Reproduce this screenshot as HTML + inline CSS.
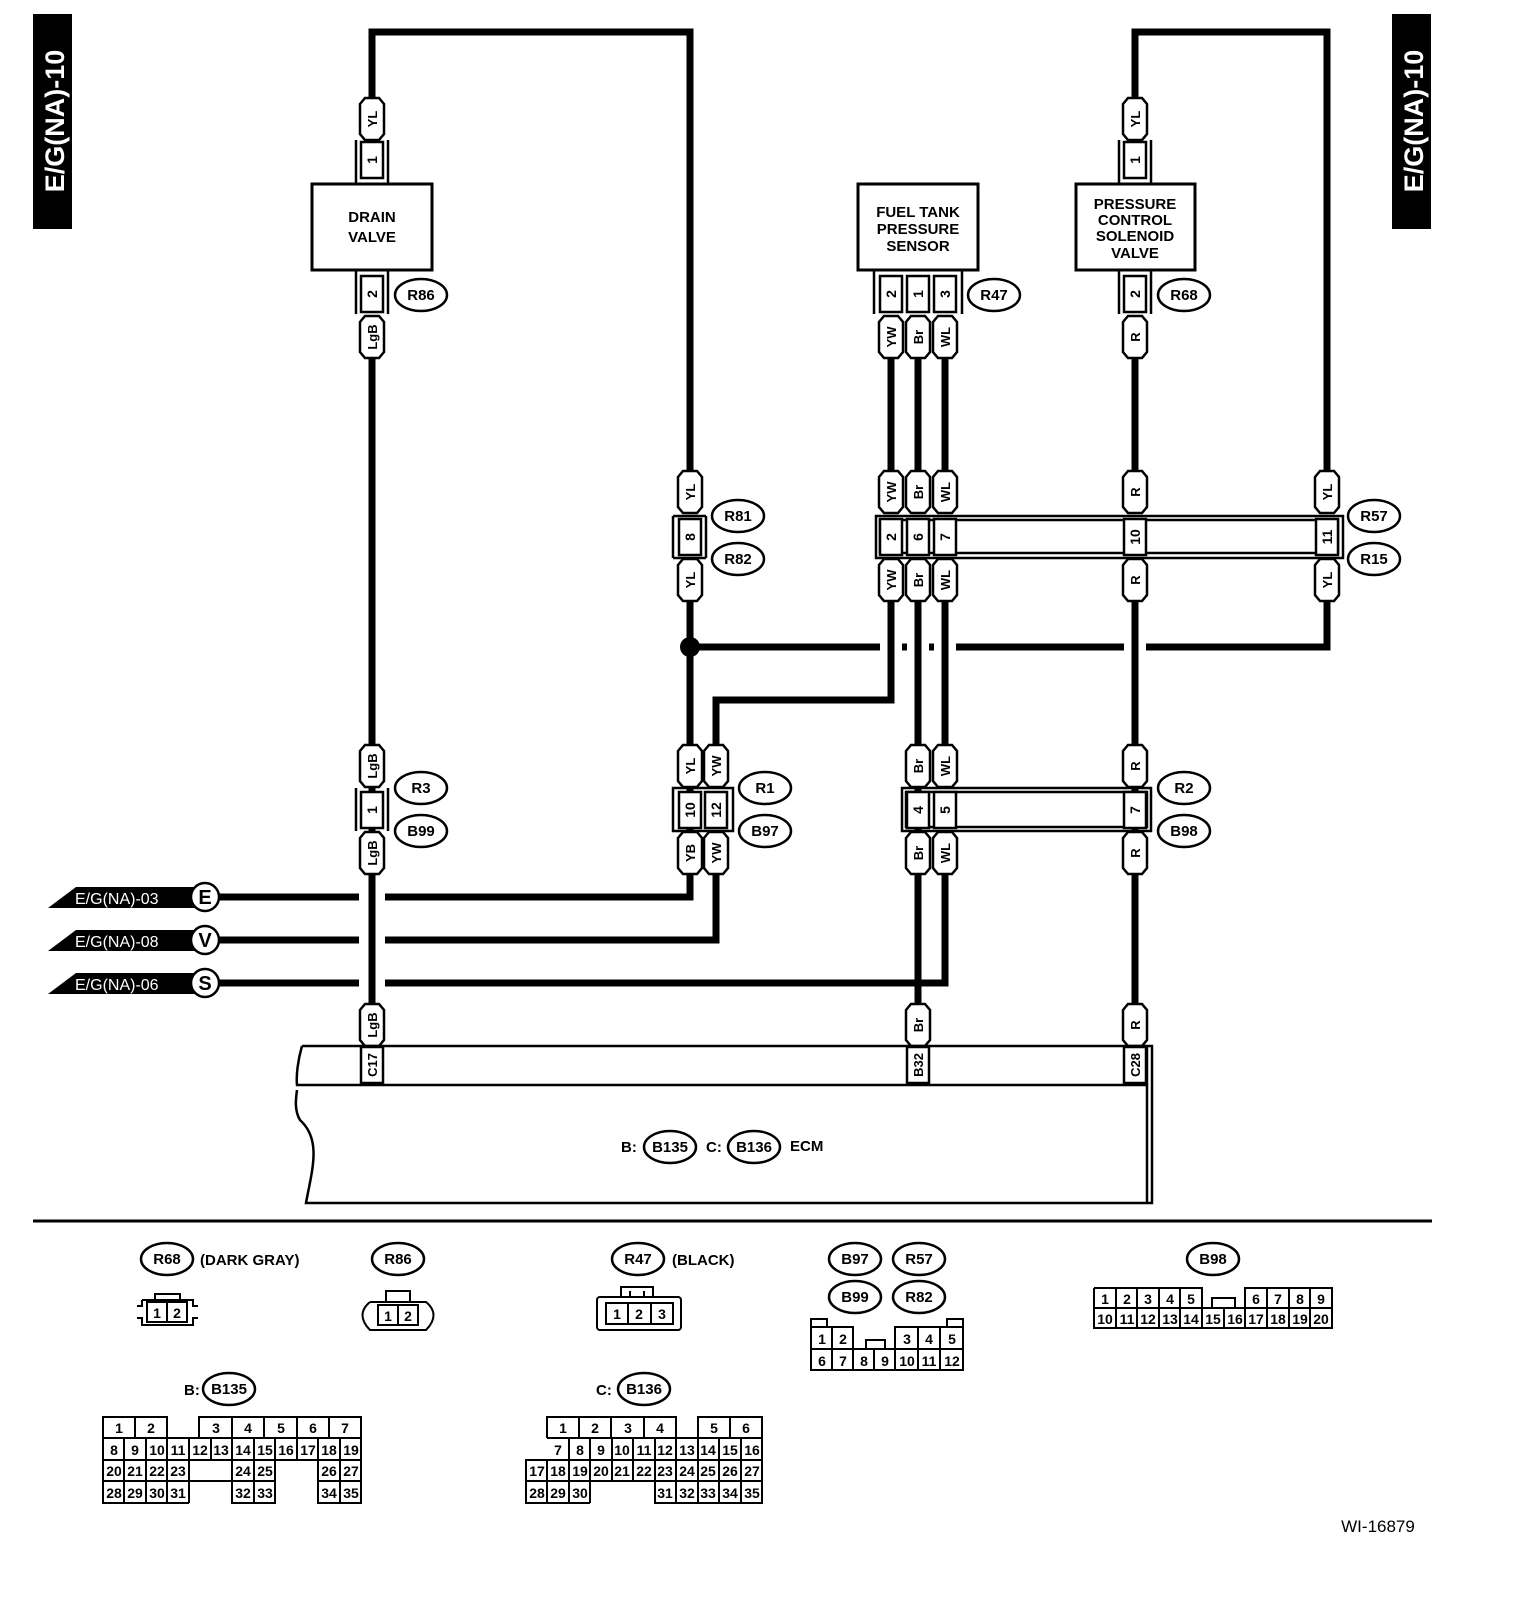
<!DOCTYPE html>
<html><head><meta charset="utf-8"><style>
html,body{margin:0;padding:0;background:#fff;overflow:hidden;width:1520px;height:1602px}
svg{display:block;position:absolute;left:0;top:0}
text{font-family:"Liberation Sans",sans-serif;font-weight:bold}
</style></head><body>
<svg width="1520" height="1602" viewBox="0 0 1520 1602" xmlns="http://www.w3.org/2000/svg">
<defs>
<path id="pill" d="M-12,-15 L-7,-21 H7 L12,-15 V15 L7,21 H-7 L-12,15 Z" fill="#fff" stroke="#000" stroke-width="2.5"/>
<rect id="pin" x="-11" y="-18" width="22" height="36" fill="#fff" stroke="#000" stroke-width="2.5"/>
</defs>
<rect width="1520" height="1602" fill="#fff"/>
<rect x="33" y="14" width="39" height="215" fill="#000"/>
<text transform="translate(64,121) rotate(-90)" fill="#fff" font-size="27" font-weight="normal" text-anchor="middle">E/G(NA)-10</text>
<rect x="1392" y="14" width="39" height="215" fill="#000"/>
<text transform="translate(1423,121) rotate(-90)" fill="#fff" font-size="27" font-weight="normal" text-anchor="middle">E/G(NA)-10</text>

<g stroke="#000" stroke-width="7" fill="none" stroke-linejoin="miter">
<path d="M372,98 V32 H690 V471"/>
<path d="M1135,98 V32 H1327 V471"/>
<path d="M690,647 H1327 V602"/>
<path d="M205,897 H690 V602"/>
<path d="M205,940 H716 V873"/>
<path d="M205,983 H945 V873"/>
</g>
<g fill="#fff">
<rect x="359" y="890" width="26" height="14"/>
<rect x="359" y="933" width="26" height="14"/>
<rect x="359" y="976" width="26" height="14"/>
<rect x="880" y="640" width="22" height="14"/>
<rect x="907" y="640" width="22" height="14"/>
<rect x="934" y="640" width="22" height="14"/>
<rect x="1124" y="640" width="22" height="14"/>
</g>
<g stroke="#000" stroke-width="7" fill="none">
<path d="M372,358 V1004"/>
<path d="M891,358 V471 M891,602 V700 H716 V745"/>
<path d="M918,358 V471 M918,602 V1004"/>
<path d="M945,358 V471 M945,602 V745"/>
<path d="M1135,358 V471 M1135,602 V1004"/>
<path d="M372,120 V160"/>
</g>
<circle cx="690" cy="647" r="10" fill="#000"/>

<g fill="#fff" stroke="#000" stroke-width="3">
<rect x="312" y="184" width="120" height="86"/>
<rect x="858" y="184" width="120" height="86"/>
<rect x="1076" y="184" width="119" height="86"/>
</g>
<g font-size="15" text-anchor="middle">
<text x="372" y="222">DRAIN</text><text x="372" y="242">VALVE</text>
<text x="918" y="217">FUEL TANK</text><text x="918" y="234">PRESSURE</text><text x="918" y="251">SENSOR</text>
<text x="1135" y="209">PRESSURE</text><text x="1135" y="225">CONTROL</text><text x="1135" y="241">SOLENOID</text><text x="1135" y="258">VALVE</text>
</g>

<g stroke="#000" stroke-width="2.5" fill="none">
<path d="M356,140 V184 M388,140 V184 M356,270 V314 M388,270 V314"/>
<path d="M1119,140 V184 M1151,140 V184 M1119,270 V314 M1151,270 V314"/>
<path d="M874,270 V314 M962,270 V314"/>
<path d="M673,516 H706 M673,516 V558 M706,516 V558 M673,558 H706"/>
<rect x="876" y="516" width="467" height="42"/>
<rect x="880" y="520" width="458" height="33"/>
<path d="M356,788 V831 M388,788 V831"/>
<rect x="673" y="788" width="60" height="43"/>
<rect x="902" y="788" width="249" height="43"/>
<rect x="906" y="792" width="241" height="35"/>
</g>

<g>
<use href="#pin" x="372" y="160"/><use href="#pin" x="372" y="294"/>
<use href="#pin" x="891" y="294"/><use href="#pin" x="918" y="294"/><use href="#pin" x="945" y="294"/>
<use href="#pin" x="1135" y="294"/><use href="#pin" x="1135" y="160"/>
<use href="#pin" x="690" y="537"/>
<use href="#pin" x="891" y="537"/><use href="#pin" x="918" y="537"/><use href="#pin" x="945" y="537"/>
<use href="#pin" x="1135" y="537"/><use href="#pin" x="1327" y="537"/>
<use href="#pin" x="372" y="810"/><use href="#pin" x="690" y="810"/><use href="#pin" x="716" y="810"/>
<use href="#pin" x="918" y="810"/><use href="#pin" x="945" y="810"/><use href="#pin" x="1135" y="810"/>
</g>
<g font-size="14" text-anchor="middle">
<text transform="translate(377,160) rotate(-90)">1</text>
<text transform="translate(377,294) rotate(-90)">2</text>
<text transform="translate(896,294) rotate(-90)">2</text>
<text transform="translate(923,294) rotate(-90)">1</text>
<text transform="translate(950,294) rotate(-90)">3</text>
<text transform="translate(1140,294) rotate(-90)">2</text>
<text transform="translate(1140,160) rotate(-90)">1</text>
<text transform="translate(695,537) rotate(-90)">8</text>
<text transform="translate(896,537) rotate(-90)">2</text>
<text transform="translate(923,537) rotate(-90)">6</text>
<text transform="translate(950,537) rotate(-90)">7</text>
<text transform="translate(1140,537) rotate(-90)">10</text>
<text transform="translate(1332,537) rotate(-90)">11</text>
<text transform="translate(377,810) rotate(-90)">1</text>
<text transform="translate(695,810) rotate(-90)">10</text>
<text transform="translate(721,810) rotate(-90)">12</text>
<text transform="translate(923,810) rotate(-90)">4</text>
<text transform="translate(950,810) rotate(-90)">5</text>
<text transform="translate(1140,810) rotate(-90)">7</text>
</g>

<g>
<use href="#pill" x="372" y="119"/><use href="#pill" x="372" y="337"/>
<use href="#pill" x="891" y="337"/><use href="#pill" x="918" y="337"/><use href="#pill" x="945" y="337"/>
<use href="#pill" x="1135" y="337"/><use href="#pill" x="1135" y="119"/>
<use href="#pill" x="690" y="492"/><use href="#pill" x="891" y="492"/><use href="#pill" x="918" y="492"/><use href="#pill" x="945" y="492"/><use href="#pill" x="1135" y="492"/><use href="#pill" x="1327" y="492"/>
<use href="#pill" x="690" y="580"/><use href="#pill" x="891" y="580"/><use href="#pill" x="918" y="580"/><use href="#pill" x="945" y="580"/><use href="#pill" x="1135" y="580"/><use href="#pill" x="1327" y="580"/>
<use href="#pill" x="372" y="766"/><use href="#pill" x="690" y="766"/><use href="#pill" x="716" y="766"/><use href="#pill" x="918" y="766"/><use href="#pill" x="945" y="766"/><use href="#pill" x="1135" y="766"/>
<use href="#pill" x="372" y="853"/><use href="#pill" x="690" y="853"/><use href="#pill" x="716" y="853"/><use href="#pill" x="918" y="853"/><use href="#pill" x="945" y="853"/><use href="#pill" x="1135" y="853"/>
<use href="#pill" x="372" y="1025"/><use href="#pill" x="918" y="1025"/><use href="#pill" x="1135" y="1025"/>
</g>
<g font-size="13" text-anchor="middle">
<text transform="translate(377,119) rotate(-90)">YL</text>
<text transform="translate(377,337) rotate(-90)">LgB</text>
<text transform="translate(896,337) rotate(-90)">YW</text>
<text transform="translate(923,337) rotate(-90)">Br</text>
<text transform="translate(950,337) rotate(-90)">WL</text>
<text transform="translate(1140,337) rotate(-90)">R</text>
<text transform="translate(1140,119) rotate(-90)">YL</text>
<text transform="translate(695,492) rotate(-90)">YL</text>
<text transform="translate(896,492) rotate(-90)">YW</text>
<text transform="translate(923,492) rotate(-90)">Br</text>
<text transform="translate(950,492) rotate(-90)">WL</text>
<text transform="translate(1140,492) rotate(-90)">R</text>
<text transform="translate(1332,492) rotate(-90)">YL</text>
<text transform="translate(695,580) rotate(-90)">YL</text>
<text transform="translate(896,580) rotate(-90)">YW</text>
<text transform="translate(923,580) rotate(-90)">Br</text>
<text transform="translate(950,580) rotate(-90)">WL</text>
<text transform="translate(1140,580) rotate(-90)">R</text>
<text transform="translate(1332,580) rotate(-90)">YL</text>
<text transform="translate(377,766) rotate(-90)">LgB</text>
<text transform="translate(695,766) rotate(-90)">YL</text>
<text transform="translate(721,766) rotate(-90)">YW</text>
<text transform="translate(923,766) rotate(-90)">Br</text>
<text transform="translate(950,766) rotate(-90)">WL</text>
<text transform="translate(1140,766) rotate(-90)">R</text>
<text transform="translate(377,853) rotate(-90)">LgB</text>
<text transform="translate(695,853) rotate(-90)">YB</text>
<text transform="translate(721,853) rotate(-90)">YW</text>
<text transform="translate(923,853) rotate(-90)">Br</text>
<text transform="translate(950,853) rotate(-90)">WL</text>
<text transform="translate(1140,853) rotate(-90)">R</text>
<text transform="translate(377,1025) rotate(-90)">LgB</text>
<text transform="translate(923,1025) rotate(-90)">Br</text>
<text transform="translate(1140,1025) rotate(-90)">R</text>
</g>

<g fill="#fff" stroke="#000" stroke-width="2.5">
<ellipse cx="421" cy="295" rx="26" ry="16"/>
<ellipse cx="994" cy="295" rx="26" ry="16"/>
<ellipse cx="1184" cy="295" rx="26" ry="16"/>
<ellipse cx="738" cy="516" rx="26" ry="16"/><ellipse cx="738" cy="559" rx="26" ry="16"/>
<ellipse cx="1374" cy="516" rx="26" ry="16"/><ellipse cx="1374" cy="559" rx="26" ry="16"/>
<ellipse cx="421" cy="788" rx="26" ry="16"/><ellipse cx="421" cy="831" rx="26" ry="16"/>
<ellipse cx="765" cy="788" rx="26" ry="16"/><ellipse cx="765" cy="831" rx="26" ry="16"/>
<ellipse cx="1184" cy="788" rx="26" ry="16"/><ellipse cx="1184" cy="831" rx="26" ry="16"/>
<ellipse cx="670" cy="1147" rx="26" ry="16"/><ellipse cx="754" cy="1147" rx="26" ry="16"/>
<ellipse cx="167" cy="1259" rx="26" ry="16"/><ellipse cx="398" cy="1259" rx="26" ry="16"/><ellipse cx="638" cy="1259" rx="26" ry="16"/>
<ellipse cx="855" cy="1259" rx="26" ry="16"/><ellipse cx="919" cy="1259" rx="26" ry="16"/>
<ellipse cx="855" cy="1297" rx="26" ry="16"/><ellipse cx="919" cy="1297" rx="26" ry="16"/>
<ellipse cx="1213" cy="1259" rx="26" ry="16"/>
<ellipse cx="229" cy="1389" rx="26" ry="16"/><ellipse cx="644" cy="1389" rx="26" ry="16"/>
</g>
<g font-size="15" text-anchor="middle">
<text x="421" y="300">R86</text><text x="994" y="300">R47</text><text x="1184" y="300">R68</text>
<text x="738" y="521">R81</text><text x="738" y="564">R82</text>
<text x="1374" y="521">R57</text><text x="1374" y="564">R15</text>
<text x="421" y="793">R3</text><text x="421" y="836">B99</text>
<text x="765" y="793">R1</text><text x="765" y="836">B97</text>
<text x="1184" y="793">R2</text><text x="1184" y="836">B98</text>
<text x="670" y="1152">B135</text><text x="754" y="1152">B136</text>
<text x="167" y="1264">R68</text><text x="398" y="1264">R86</text><text x="638" y="1264">R47</text>
<text x="855" y="1264">B97</text><text x="919" y="1264">R57</text><text x="855" y="1302">B99</text><text x="919" y="1302">R82</text>
<text x="1213" y="1264">B98</text>
<text x="229" y="1394">B135</text><text x="644" y="1394">B136</text>
</g>
<g font-size="15">
<text x="621" y="1152">B:</text><text x="706" y="1152">C:</text><text x="790" y="1151">ECM</text>
<text x="200" y="1265">(DARK GRAY)</text><text x="672" y="1265">(BLACK)</text>
<text x="184" y="1395">B:</text><text x="596" y="1395">C:</text>
</g>

<g>
<polygon points="48,908 76,887 196,887 196,908" fill="#000"/>
<polygon points="48,951 76,930 196,930 196,951" fill="#000"/>
<polygon points="48,994 76,973 196,973 196,994" fill="#000"/>
<g fill="#fff" font-size="16"><text x="75" y="904" style="font-weight:normal">E/G(NA)-03</text><text x="75" y="947" style="font-weight:normal">E/G(NA)-08</text><text x="75" y="990" style="font-weight:normal">E/G(NA)-06</text></g>
<g fill="#fff" stroke="#000" stroke-width="2.5"><circle cx="205" cy="897" r="14"/><circle cx="205" cy="940" r="14"/><circle cx="205" cy="983" r="14"/></g>
<g font-size="20" text-anchor="middle"><text x="205" y="904">E</text><text x="205" y="947">V</text><text x="205" y="990">S</text></g>
</g>

<g fill="none" stroke="#000" stroke-width="2.5">
<path d="M302,1046 H1152 V1203 H306 C312,1170 322,1140 300,1120 C294,1110 296,1098 297,1090"/>
<path d="M302,1046 C298,1060 296,1075 297,1085 H1147"/>
<path d="M1147,1046 V1203"/>
</g>
<g><use href="#pin" x="372" y="1065"/><use href="#pin" x="918" y="1065"/><use href="#pin" x="1135" y="1065"/></g>
<g font-size="13" text-anchor="middle">
<text transform="translate(377,1065) rotate(-90)">C17</text>
<text transform="translate(923,1065) rotate(-90)">B32</text>
<text transform="translate(1140,1065) rotate(-90)">C28</text>
</g>

<line x1="33" y1="1221" x2="1432" y2="1221" stroke="#000" stroke-width="3"/>

<g fill="none" stroke="#000" stroke-width="2">
<path d="M142,1300 H193 V1306 H198 M198,1318 H193 V1325 H142 V1318 H137 M137,1306 H142 V1300"/>
<path d="M155,1300 V1294 H180 V1300"/>
<rect x="147" y="1302" width="40" height="20"/><line x1="167" y1="1302" x2="167" y2="1322"/>
<path d="M370,1302 H426 C436,1310 436,1320 426,1330 H370 C360,1320 360,1310 370,1302"/>
<path d="M386,1302 V1291 H410 V1302"/>
<rect x="378" y="1305" width="40" height="20"/><line x1="398" y1="1305" x2="398" y2="1325"/>
<rect x="597" y="1297" width="84" height="33" rx="3"/>
<path d="M621,1297 V1287 H653 V1297 M630,1297 V1291 M644,1297 V1291"/>
<rect x="606" y="1303" width="67" height="21"/><line x1="628" y1="1303" x2="628" y2="1324"/><line x1="651" y1="1303" x2="651" y2="1324"/>
<path d="M811,1349 V1327 H853 V1349 M895,1349 V1327 H963 V1349 M811,1349 H963 V1370 H811 Z"/>
<path d="M832,1327 V1370 M853,1349 V1370 M874,1349 V1370 M895,1349 V1370 M918,1327 V1370 M940,1327 V1370 M866,1349 V1340 H885 V1349 M811,1327 V1319 H827 V1327 M963,1327 V1319 H947 V1327"/>
<path d="M1094,1288 H1202 V1308 M1094,1288 V1328 H1332 V1288 H1245 V1308 M1094,1308 H1332"/>
<path d="M1116,1288 V1328 M1137,1288 V1328 M1159,1288 V1328 M1180,1288 V1328 M1202,1308 V1328 M1224,1308 V1328 M1245,1288 V1328 M1267,1288 V1328 M1289,1288 V1328 M1310,1288 V1328 M1212,1308 V1298 H1235 V1308"/>
<path d="M103,1438 V1417 H167 V1438 M199,1438 V1417 H361 V1438 M103,1438 H361 V1460 H103 Z"/>
<path d="M135,1417 V1438 M232,1417 V1438 M264,1417 V1438 M297,1417 V1438 M329,1417 V1438"/>
<path d="M124,1438 V1503 M146,1438 V1503 M167,1438 V1503 M189,1438 V1503 M211,1438 V1460 M232,1438 V1503 M254,1438 V1503 M275,1438 V1503 M297,1438 V1460 M318,1438 V1503 M340,1438 V1503"/>
<path d="M103,1460 V1503 H189 M232,1481 H103 M232,1460 V1503 H275 V1460 M232,1481 H275 M318,1460 V1503 H361 V1460 M318,1481 H361"/>
<path d="M547,1438 V1417 H676 V1438 M698,1438 V1417 H762 V1438 M547,1438 H762 V1481 H526 V1460 H762 M526,1481 V1503 H590 M526,1481 V1460 H547 M655,1481 V1503 H762 V1481"/>
<path d="M579,1417 V1438 M611,1417 V1438 M644,1417 V1438 M730,1417 V1438"/>
<path d="M569,1438 V1503 M590,1438 V1503 M612,1438 V1481 M633,1438 V1481 M655,1438 V1503 M676,1438 V1503 M698,1438 V1503 M719,1438 V1503 M741,1438 V1503 M547,1460 V1503"/>
<path d="M655,1481 H762"/>
</g>
<g font-size="14" text-anchor="middle" style="font-weight:normal">
<text x="157" y="1318">1</text><text x="177" y="1318">2</text>
<text x="388" y="1321">1</text><text x="408" y="1321">2</text>
<text x="617" y="1319">1</text><text x="639" y="1319">2</text><text x="662" y="1319">3</text>
<text x="822" y="1344">1</text><text x="843" y="1344">2</text><text x="907" y="1344">3</text><text x="929" y="1344">4</text><text x="952" y="1344">5</text>
<text x="822" y="1366">6</text><text x="843" y="1366">7</text><text x="864" y="1366">8</text><text x="885" y="1366">9</text><text x="907" y="1366">10</text><text x="929" y="1366">11</text><text x="952" y="1366">12</text>
<text x="1105" y="1304">1</text><text x="1127" y="1304">2</text><text x="1148" y="1304">3</text><text x="1170" y="1304">4</text><text x="1191" y="1304">5</text><text x="1256" y="1304">6</text><text x="1278" y="1304">7</text><text x="1300" y="1304">8</text><text x="1321" y="1304">9</text>
<text x="1105" y="1324">10</text><text x="1127" y="1324">11</text><text x="1148" y="1324">12</text><text x="1170" y="1324">13</text><text x="1191" y="1324">14</text><text x="1213" y="1324">15</text><text x="1235" y="1324">16</text><text x="1256" y="1324">17</text><text x="1278" y="1324">18</text><text x="1300" y="1324">19</text><text x="1321" y="1324">20</text>
<text x="119" y="1433">1</text><text x="151" y="1433">2</text><text x="216" y="1433">3</text><text x="248" y="1433">4</text><text x="281" y="1433">5</text><text x="313" y="1433">6</text><text x="345" y="1433">7</text>
<text x="114" y="1455">8</text><text x="135" y="1455">9</text><text x="157" y="1455">10</text><text x="178" y="1455">11</text><text x="200" y="1455">12</text><text x="221" y="1455">13</text><text x="243" y="1455">14</text><text x="265" y="1455">15</text><text x="286" y="1455">16</text><text x="308" y="1455">17</text><text x="329" y="1455">18</text><text x="351" y="1455">19</text>
<text x="114" y="1476">20</text><text x="135" y="1476">21</text><text x="157" y="1476">22</text><text x="178" y="1476">23</text><text x="243" y="1476">24</text><text x="265" y="1476">25</text><text x="329" y="1476">26</text><text x="351" y="1476">27</text>
<text x="114" y="1498">28</text><text x="135" y="1498">29</text><text x="157" y="1498">30</text><text x="178" y="1498">31</text><text x="243" y="1498">32</text><text x="265" y="1498">33</text><text x="329" y="1498">34</text><text x="351" y="1498">35</text>
<text x="563" y="1433">1</text><text x="595" y="1433">2</text><text x="628" y="1433">3</text><text x="660" y="1433">4</text><text x="714" y="1433">5</text><text x="746" y="1433">6</text>
<text x="558" y="1455">7</text><text x="580" y="1455">8</text><text x="601" y="1455">9</text><text x="622" y="1455">10</text><text x="644" y="1455">11</text><text x="665" y="1455">12</text><text x="687" y="1455">13</text><text x="708" y="1455">14</text><text x="730" y="1455">15</text><text x="752" y="1455">16</text>
<text x="537" y="1476">17</text><text x="558" y="1476">18</text><text x="580" y="1476">19</text><text x="601" y="1476">20</text><text x="622" y="1476">21</text><text x="644" y="1476">22</text><text x="665" y="1476">23</text><text x="687" y="1476">24</text><text x="708" y="1476">25</text><text x="730" y="1476">26</text><text x="752" y="1476">27</text>
<text x="537" y="1498">28</text><text x="558" y="1498">29</text><text x="580" y="1498">30</text><text x="665" y="1498">31</text><text x="687" y="1498">32</text><text x="708" y="1498">33</text><text x="730" y="1498">34</text><text x="752" y="1498">35</text>
</g>
<text x="1378" y="1532" font-size="17" text-anchor="middle" style="font-weight:normal">WI-16879</text>
</svg>
</body></html>
